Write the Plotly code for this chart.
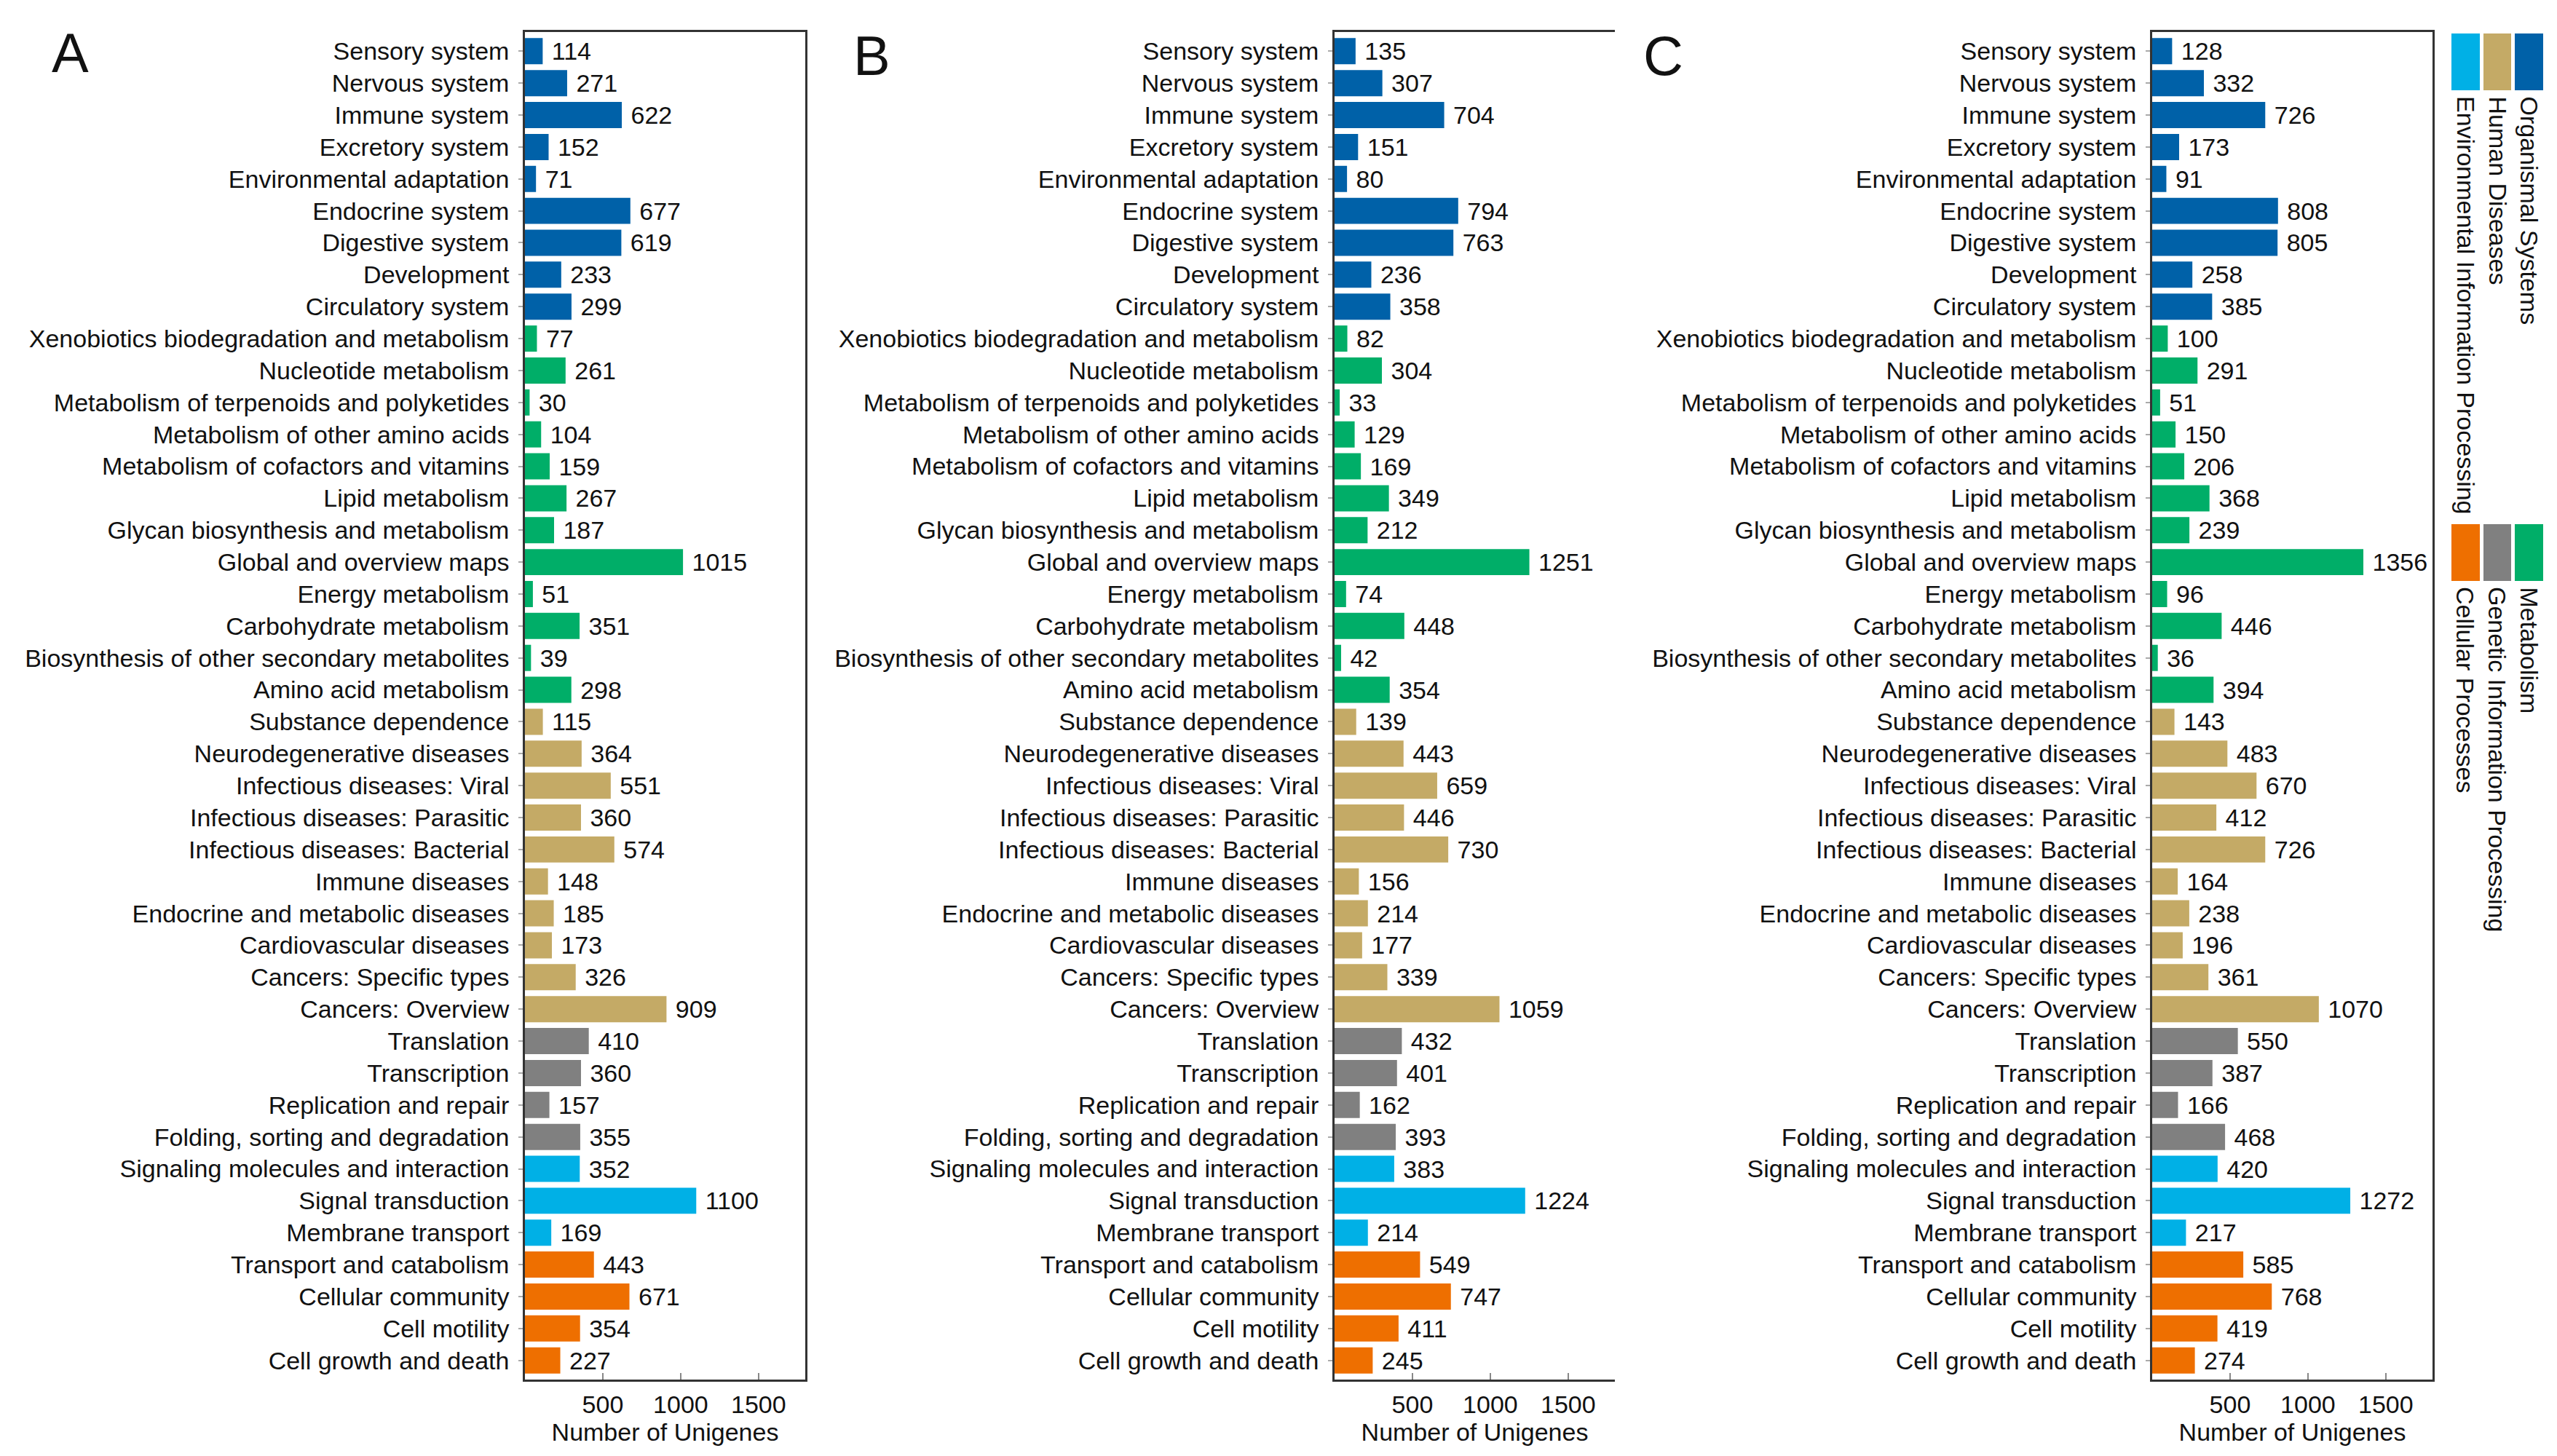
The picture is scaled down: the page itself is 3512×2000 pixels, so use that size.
import plotly.graph_objects as go

W, H = 3512, 2000

categories = [
    "Sensory system", "Nervous system", "Immune system", "Excretory system",
    "Environmental adaptation", "Endocrine system", "Digestive system", "Development",
    "Circulatory system", "Xenobiotics biodegradation and metabolism", "Nucleotide metabolism",
    "Metabolism of terpenoids and polyketides", "Metabolism of other amino acids",
    "Metabolism of cofactors and vitamins", "Lipid metabolism", "Glycan biosynthesis and metabolism",
    "Global and overview maps", "Energy metabolism", "Carbohydrate metabolism",
    "Biosynthesis of other secondary metabolites", "Amino acid metabolism", "Substance dependence",
    "Neurodegenerative diseases", "Infectious diseases: Viral", "Infectious diseases: Parasitic",
    "Infectious diseases: Bacterial", "Immune diseases", "Endocrine and metabolic diseases",
    "Cardiovascular diseases", "Cancers: Specific types", "Cancers: Overview", "Translation",
    "Transcription", "Replication and repair", "Folding, sorting and degradation",
    "Signaling molecules and interaction", "Signal transduction", "Membrane transport",
    "Transport and catabolism", "Cellular community", "Cell motility", "Cell growth and death",
]

groups = (["Organismal Systems"] * 9 + ["Metabolism"] * 12 + ["Human Diseases"] * 10 +
          ["Genetic Information Processing"] * 4 + ["Environmental Information Processing"] * 3 +
          ["Cellular Processes"] * 4)

values_A = [114, 271, 622, 152, 71, 677, 619, 233, 299, 77, 261, 30, 104, 159, 267, 187, 1015, 51,
            351, 39, 298, 115, 364, 551, 360, 574, 148, 185, 173, 326, 909, 410, 360, 157, 355, 352,
            1100, 169, 443, 671, 354, 227]
values_B = [135, 307, 704, 151, 80, 794, 763, 236, 358, 82, 304, 33, 129, 169, 349, 212, 1251, 74,
            448, 42, 354, 139, 443, 659, 446, 730, 156, 214, 177, 339, 1059, 432, 401, 162, 393, 383,
            1224, 214, 549, 747, 411, 245]
values_C = [128, 332, 726, 173, 91, 808, 805, 258, 385, 100, 291, 51, 150, 206, 368, 239, 1356, 96,
            446, 36, 394, 143, 483, 670, 412, 726, 164, 238, 196, 361, 1070, 550, 387, 166, 468, 420,
            1272, 217, 585, 768, 419, 274]

x_ticks = [500, 1000, 1500]
x_title = "Number of Unigenes"
panel_letters = ["A", "B", "C"]

group_colors = {
    "Organismal Systems": "#0061A8",
    "Metabolism": "#00AE68",
    "Human Diseases": "#C4AA66",
    "Genetic Information Processing": "#808080",
    "Environmental Information Processing": "#00B0E6",
    "Cellular Processes": "#EE6F00",
}
legend_row1 = ["Environmental Information Processing", "Human Diseases", "Organismal Systems"]
legend_row2 = ["Cellular Processes", "Genetic Information Processing", "Metabolism"]

FONT = "Liberation Sans, Arial, sans-serif"
FS = 34

# layout geometry (pixels)
panels_px = [(713, 1098), (1825, 2210), (2948, 3333)]
top_px, bot_px = 36, 1887
ydom = [1 - bot_px / H, 1 - top_px / H]
n_cat = len(categories)

fig = go.Figure()
bar_colors = [group_colors[g] for g in groups]
all_vals = [values_A, values_B, values_C]

for i, vals in enumerate(all_vals):
    sfx = "" if i == 0 else str(i + 1)
    fig.add_trace(go.Bar(
        x=vals, y=categories, orientation="h",
        marker=dict(color=bar_colors, line=dict(width=0)),
        text=vals, texttemplate="\u00a0%{x}", textposition="outside",
        textfont=dict(family=FONT, size=FS, color="#111"),
        constraintext="none", cliponaxis=False,
        xaxis="x" + sfx, yaxis="y" + sfx, showlegend=False,
    ))

layout = dict(
    width=W, height=H,
    margin=dict(l=0, r=0, t=0, b=0),
    paper_bgcolor="white", plot_bgcolor="white",
    font=dict(family=FONT, size=FS, color="#111"),
    bargap=0.18,
)

for i, (l, r) in enumerate(panels_px):
    sfx = "" if i == 0 else str(i + 1)
    mirror_y = (i != 1)
    layout["xaxis" + sfx] = dict(
        domain=[l / W, r / W], anchor="y" + sfx, range=[0, 1800],
        tickvals=x_ticks, ticks="inside", ticklen=9, tickwidth=2, tickcolor="#888",
        showline=True, linecolor="#333", linewidth=2.5, mirror=True,
        showgrid=False, zeroline=False,
        tickfont=dict(family=FONT, size=FS, color="#111"),
        ticklabelstandoff=2,
        title=dict(text=x_title, font=dict(family=FONT, size=FS, color="#111"), standoff=6),
        automargin=False,
    )
    layout["yaxis" + sfx] = dict(
        domain=ydom, anchor="x" + sfx, type="category",
        categoryorder="array", categoryarray=categories,
        range=[n_cat - 1 + 0.6, -0.6],
        ticks="outside", ticklen=6, tickwidth=2, tickcolor="#aaa",
        ticklabelstandoff=6,
        showline=True, linecolor="#333", linewidth=2.5, mirror=mirror_y,
        showgrid=False, zeroline=False, dtick=1,
        tickfont=dict(family=FONT, size=FS, color="#111"),
        automargin=False,
    )

fig.update_layout(**layout)

# panel letters
letter_pos = [(88, 64), (1189, 69), (2276, 69)]
for letter, (px, py) in zip(panel_letters, letter_pos):
    fig.add_annotation(text=letter, x=px / W, y=1 - py / H, xref="paper", yref="paper",
                       showarrow=False, xanchor="center", yanchor="middle",
                       font=dict(family=FONT, size=76, color="#111"))

# custom legend
col_x = [(3359, 3398), (3403, 3441), (3446, 3485)]
for row, (y0, y1) in zip([legend_row1, legend_row2], [(38, 116), (712, 790)]):
    for name, (x0, x1) in zip(row, col_x):
        fig.add_shape(type="rect", xref="paper", yref="paper",
                      x0=x0 / W, x1=x1 / W, y0=1 - y1 / H, y1=1 - y0 / H,
                      fillcolor=group_colors[name], line=dict(width=0))
        fig.add_annotation(text=name, x=(x0 + x1) / 2 / W, y=1 - (y1 + 6) / H,
                           xref="paper", yref="paper", showarrow=False, textangle=90,
                           xanchor="center", yanchor="top",
                           font=dict(family=FONT, size=FS, color="#111"))

fig.write_html("out.html")
